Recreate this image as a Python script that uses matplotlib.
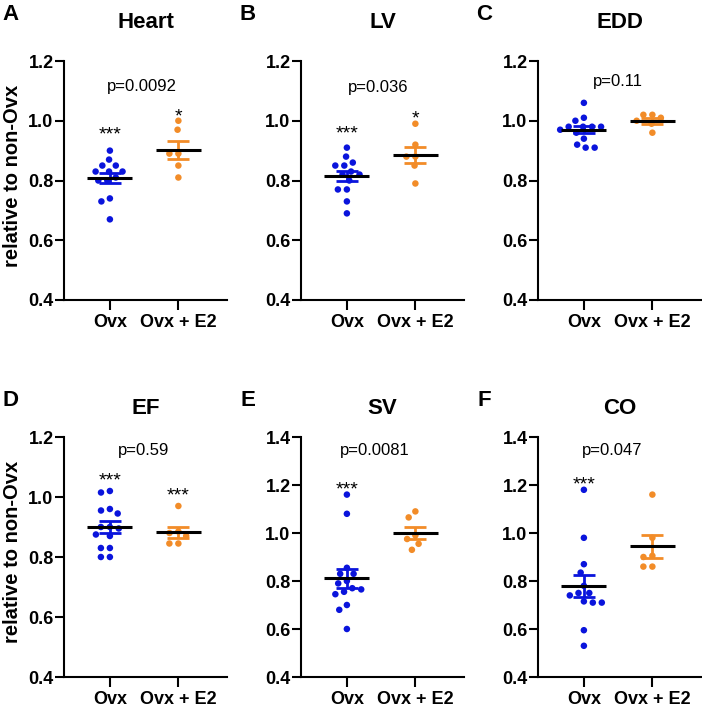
import numpy as np
import matplotlib
matplotlib.use("Agg")
import matplotlib.pyplot as plt

plt.rcParams['font.family'] = ['Liberation Sans', 'DejaVu Sans']

groups = ["Ovx", "Ovx + E2"]
panels = ["A", "B", "C", "D", "E", "F"]
titles = ["Heart", "LV", "EDD", "EF", "SV", "CO"]

heart_ovx = [0.90, 0.87, 0.85, 0.85, 0.83, 0.83, 0.83, 0.81, 0.80, 0.80, 0.74, 0.73, 0.67]
heart_e2 = [1.00, 0.97, 0.89, 0.89, 0.85, 0.81]
lv_ovx = [0.91, 0.88, 0.85, 0.85, 0.86, 0.83, 0.82, 0.82, 0.80, 0.77, 0.77, 0.73, 0.69]
lv_e2 = [0.99, 0.92, 0.88, 0.88, 0.85, 0.79]
edd_ovx = [1.06, 1.01, 1.00, 0.98, 0.98, 0.98, 0.98, 0.97, 0.96, 0.94, 0.92, 0.91, 0.91]
edd_e2 = [1.02, 1.02, 1.01, 1.00, 0.99, 0.96]
ef_ovx = [1.02, 1.015, 0.96, 0.955, 0.945, 0.90, 0.90, 0.895, 0.875, 0.87, 0.83, 0.83, 0.80, 0.80]
ef_e2 = [0.97, 0.885, 0.88, 0.87, 0.845, 0.845]
sv_ovx = [1.16, 1.08, 0.855, 0.83, 0.83, 0.80, 0.79, 0.77, 0.765, 0.755, 0.745, 0.70, 0.68, 0.60]
sv_e2 = [1.09, 1.065, 0.99, 0.975, 0.955, 0.93]
co_ovx = [1.18, 0.98, 0.87, 0.835, 0.78, 0.75, 0.75, 0.74, 0.715, 0.71, 0.71, 0.595, 0.53]
co_e2 = [1.16, 0.98, 0.905, 0.90, 0.86, 0.86]

ovx_data = [heart_ovx, lv_ovx, edd_ovx, ef_ovx, sv_ovx, co_ovx]
e2_data = [heart_e2, lv_e2, edd_e2, ef_e2, sv_e2, co_e2]
p_values = ["p=0.0092", "p=0.036", "p=0.11", "p=0.59", "p=0.0081", "p=0.047"]
stars_ovx = ["***", "***", "", "***", "***", "***"]
stars_e2 = ["*", "*", "", "***", "", ""]
y_tops = [1.2, 1.2, 1.2, 1.2, 1.4, 1.4]
y_ticks_list = [[0.4, 0.6, 0.8, 1.0, 1.2]] * 4 + [[0.4, 0.6, 0.8, 1.0, 1.2, 1.4]] * 2

# annotation positions (layout)
p_pos = [(0.47, 1.113), (0.46, 1.111), (0.49, 1.131), (0.49, 1.156), (0.41, 1.344), (0.42, 1.343)]
star_ovx_y = [0.975, 0.978, None, 1.078, 1.21, 1.229]
star_e2_y = [1.035, 1.031, None, 1.027, None, None]

BLUE = "#0a14dc"
ORANGE = "#f28c28"

W, H = 702, 707
fig = plt.figure(figsize=(W / 100, H / 100), dpi=100)

lefts = [64, 301, 538]
ax_w = 163
rows = [(61, 300), (437, 677)]


def beeswarm(ax, xc, vals, d=9.0):
    # compute pixel-based offsets so dots don't overlap
    tr = ax.transData
    pts = [tr.transform((xc, v)) for v in vals]
    order = np.argsort(-np.array(vals))
    placed = []
    xs = [0.0] * len(vals)
    for idx in order:
        px, py = pts[idx]
        cands = [0.0]
        for (qx, qy) in placed:
            dy = abs(py - qy)
            if dy < d:
                dx = np.sqrt(d * d - dy * dy)
                cands += [qx - px + dx, qx - px - dx]
        cands = sorted(cands, key=lambda c: (abs(c), c))
        for c in cands:
            ok = True
            for (qx, qy) in placed:
                if (px + c - qx) ** 2 + (py - qy) ** 2 < d * d - 1e-6:
                    ok = False
                    break
            if ok:
                break
        placed.append((px + c, py))
        xs[idx] = c
    inv = tr.inverted()
    out = []
    for i, v in enumerate(vals):
        out.append(inv.transform((pts[i][0] + xs[i], pts[i][1]))[0])
    return out


for i in range(6):
    r, c = divmod(i, 3)
    top, bot = rows[r]
    ax = fig.add_axes([lefts[c] / W, (H - bot) / H, ax_w / W, (bot - top) / H])
    ax.set_xlim(-0.67, 1.71)
    ax.set_ylim(0.4, y_tops[i])
    for s in ["top", "right"]:
        ax.spines[s].set_visible(False)
    for s in ["left", "bottom"]:
        ax.spines[s].set_linewidth(1.5)
    ax.set_yticks(y_ticks_list[i])
    ax.set_yticklabels([f"{t:.1f}" for t in y_ticks_list[i]], fontweight="bold", fontsize=13)
    ax.set_xticks([0, 1])
    ax.set_xticklabels(groups, fontweight="bold", fontsize=13)
    ax.tick_params(axis="y", length=6.5, width=1.5, pad=1)
    ax.tick_params(axis="x", length=7, width=1.5, pad=3)

    for gx, vals, col in [(0, ovx_data[i], BLUE), (1, e2_data[i], ORANGE)]:
        vals = np.array(vals)
        xs = beeswarm(ax, gx, list(vals))
        ax.scatter(xs, vals, s=22, color=col, edgecolors="none", zorder=3)
        m = vals.mean()
        sem = vals.std(ddof=1) / np.sqrt(len(vals))
        ax.errorbar([gx], [m], yerr=[sem], color=col, capsize=8, capthick=2,
                    elinewidth=2, fmt="none", zorder=4)
        ax.plot([gx - 0.33, gx + 0.33], [m, m], color="black", lw=2.2, zorder=5,
                solid_capstyle="butt")

    ax.text(p_pos[i][0], p_pos[i][1], p_values[i], ha="center", va="center", fontsize=12)
    if stars_ovx[i]:
        ax.annotate(stars_ovx[i], (0, star_ovx_y[i]), xytext=(0, -8.3), textcoords="offset points",
                    ha="center", va="baseline", fontsize=14)
    if stars_e2[i]:
        ax.annotate(stars_e2[i], (1, star_e2_y[i]), xytext=(0, -8.3), textcoords="offset points",
                    ha="center", va="baseline", fontsize=14)

    cx = (lefts[c] + ax_w / 2) / W
    ty = 22 if r == 0 else 408
    fig.text(cx, (H - ty) / H, titles[i], ha="center", va="center", fontsize=16, fontweight="bold")
    lx = [10.5, 248, 484][c]
    ly = 15 if r == 0 else 400
    fig.text(lx / W, (H - ly) / H, panels[i], ha="center", va="center", fontsize=16, fontweight="bold")

    if c == 0:
        ax.set_ylabel("relative to non-Ovx", fontweight="bold", fontsize=14.5)
        ax.yaxis.set_label_coords(-0.255, 0.52)

fig.savefig("out.png", dpi=100)
